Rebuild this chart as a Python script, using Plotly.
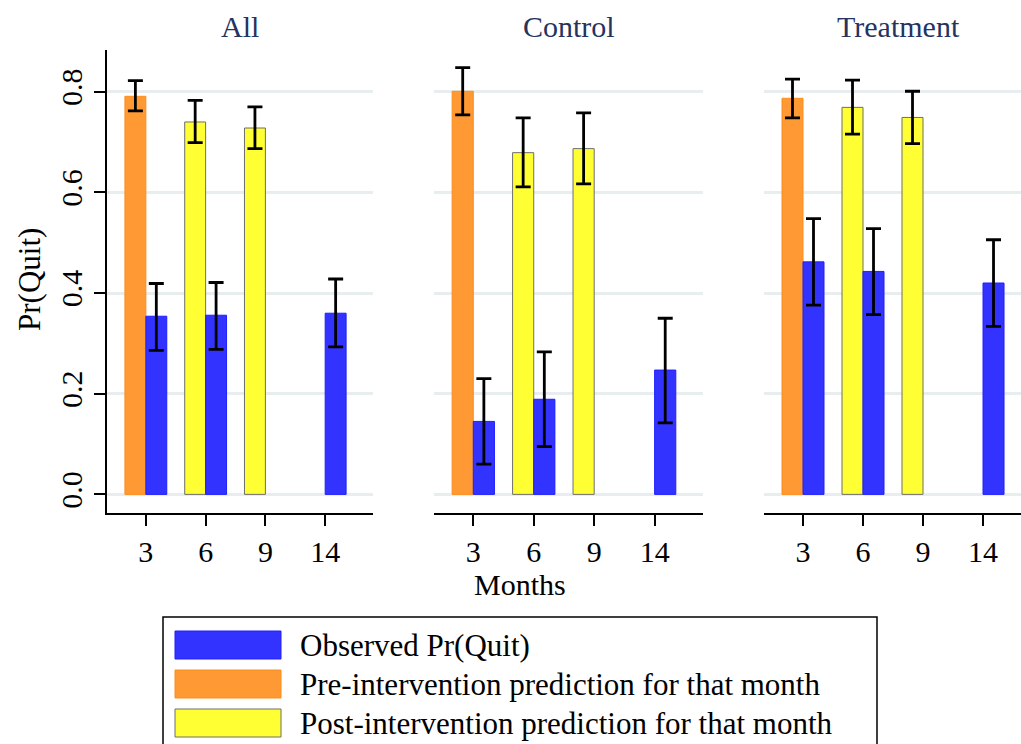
import plotly.graph_objects as go

# Months on the x axis and panel names
months = ["3", "6", "9", "14"]
panels = ["All", "Control", "Treatment"]

# Observed quit probability (months 3, 6, 14) with 95% CI bounds
obs_months = ["3", "6", "14"]
obs_val = {"All": [0.354, 0.356, 0.360],
           "Control": [0.145, 0.189, 0.247],
           "Treatment": [0.462, 0.443, 0.420]}
obs_hi = {"All": [0.419, 0.421, 0.428],
          "Control": [0.230, 0.283, 0.350],
          "Treatment": [0.548, 0.528, 0.506]}
obs_lo = {"All": [0.286, 0.288, 0.293],
          "Control": [0.060, 0.095, 0.142],
          "Treatment": [0.376, 0.357, 0.334]}

# Pre-intervention prediction (month 3)
pre_months = ["3"]
pre_val = {"All": [0.791], "Control": [0.801], "Treatment": [0.787]}
pre_hi = {"All": [0.822], "Control": [0.848], "Treatment": [0.825]}
pre_lo = {"All": [0.762], "Control": [0.754], "Treatment": [0.748]}

# Post-intervention prediction (months 6, 9)
post_months = ["6", "9"]
post_val = {"All": [0.740, 0.728], "Control": [0.679, 0.687], "Treatment": [0.769, 0.749]}
post_hi = {"All": [0.783, 0.770], "Control": [0.748, 0.758], "Treatment": [0.823, 0.801]}
post_lo = {"All": [0.699, 0.687], "Control": [0.611, 0.617], "Treatment": [0.716, 0.697]}

legend_labels = ["Observed Pr(Quit)",
                 "Pre-intervention prediction for that month",
                 "Post-intervention prediction for that month"]

FONT = "Liberation Serif"
FS = 30
BLUE, BLUE_EDGE = "#3333ff", "#1f1fff"
ORANGE, ORANGE_EDGE = "#ff9933", "#ff8c1a"
YELLOW, YELLOW_EDGE = "#ffff33", "#6e6e6e"
BAR_W = 0.35

W, H = 1021, 744


def err(val, hi, lo):
    return dict(type="data", symmetric=False,
                array=[h - v for v, h in zip(val, hi)],
                arrayminus=[v - l for v, l in zip(val, lo)],
                color="black", thickness=2.8, width=7.5)


def text(x_px, y_px, s, **kw):
    fig.add_annotation(x=x_px / W, y=1 - y_px / H, xref="paper", yref="paper",
                       text=s, showarrow=False, yanchor="middle",
                       **kw)


fig = go.Figure()

# Panel placement in pixels (left, right) for the plot areas
px_left = [107, 434, 764]
px_right = [373, 703, 1021]
title_cx = [240, 569, 898]
x_ranges = [[-0.65, 3.8], [-0.65, 3.8], [-0.65, 3.633]]
y_bot_px, y_top_px = 513, 50
y_dom = [1 - y_bot_px / H, 1 - y_top_px / H]

for i, p in enumerate(panels):
    xa = "x" if i == 0 else f"x{i + 1}"
    ya = "y" if i == 0 else f"y{i + 1}"
    fig.add_trace(go.Bar(x=pre_months, y=pre_val[p], width=BAR_W, offset=-BAR_W,
                         marker=dict(color=ORANGE, line=dict(color=ORANGE_EDGE, width=1)),
                         error_y=err(pre_val[p], pre_hi[p], pre_lo[p]),
                         xaxis=xa, yaxis=ya, showlegend=False))
    fig.add_trace(go.Bar(x=post_months, y=post_val[p], width=BAR_W, offset=-BAR_W,
                         marker=dict(color=YELLOW, line=dict(color=YELLOW_EDGE, width=1)),
                         error_y=err(post_val[p], post_hi[p], post_lo[p]),
                         xaxis=xa, yaxis=ya, showlegend=False))
    fig.add_trace(go.Bar(x=obs_months, y=obs_val[p], width=BAR_W, offset=0,
                         marker=dict(color=BLUE, line=dict(color=BLUE_EDGE, width=1)),
                         error_y=err(obs_val[p], obs_hi[p], obs_lo[p]),
                         xaxis=xa, yaxis=ya, showlegend=False))

    xkey = "xaxis" if i == 0 else f"xaxis{i + 1}"
    ykey = "yaxis" if i == 0 else f"yaxis{i + 1}"
    fig.layout[xkey] = dict(
        domain=[px_left[i] / W, px_right[i] / W], anchor=ya,
        type="category", categoryorder="array", categoryarray=months,
        range=x_ranges[i], showline=True, linecolor="black", linewidth=1.5,
        ticks="outside", ticklen=11, tickwidth=1.5, tickcolor="black",
        tickfont=dict(family=FONT, size=FS, color="black"),
        showgrid=False, zeroline=False, fixedrange=True)
    fig.layout[ykey] = dict(
        domain=y_dom, anchor=xa, range=[-0.037, 0.883],
        tickvals=[0, 0.2, 0.4, 0.6, 0.8],
        ticktext=["0.0", "0.2", "0.4", "0.6", "0.8"],
        showticklabels=(i == 0), showline=(i == 0), linecolor="black", linewidth=1.5,
        ticks="outside" if i == 0 else "", ticklen=11, tickwidth=1.5, tickcolor="black",
        tickangle=-90, tickfont=dict(family=FONT, size=FS, color="black"),
        showgrid=True, gridcolor="#e8eef0", gridwidth=2.5, zeroline=False,
        fixedrange=True)
    # panel title
    text(title_cx[i], 27, p, xanchor="center",
         font=dict(family=FONT, size=FS, color="#24335f"))

# Axis titles
text(520, 584, "Months", xanchor="center",
     font=dict(family=FONT, size=FS, color="black"))
text(29, 280, "Pr(Quit)", xanchor="center", textangle=-90,
     font=dict(family=FONT, size=FS + 1, color="black"))

# Legend box with swatches
fig.add_shape(type="rect", xref="paper", yref="paper",
              x0=163 / W, x1=877 / W, y0=1 - 760 / H, y1=1 - 617 / H,
              line=dict(color="black", width=1.5), fillcolor="white", layer="above")
sw = [(BLUE, BLUE_EDGE), (ORANGE, ORANGE_EDGE), (YELLOW, YELLOW_EDGE)]
row_c = [645, 684, 723]
for (fc, lc), cy, lab in zip(sw, row_c, legend_labels):
    fig.add_shape(type="rect", xref="paper", yref="paper",
                  x0=175 / W, x1=281 / W, y0=1 - (cy + 14) / H, y1=1 - (cy - 14) / H,
                  line=dict(color=lc, width=1), fillcolor=fc, layer="above")
    text(298, cy, lab, xanchor="left",
         font=dict(family=FONT, size=FS + 1, color="black"))

fig.update_layout(width=W, height=H, margin=dict(l=0, r=0, t=0, b=0),
                  paper_bgcolor="white", plot_bgcolor="white",
                  barmode="overlay", showlegend=False)

fig.write_html("out.html")
